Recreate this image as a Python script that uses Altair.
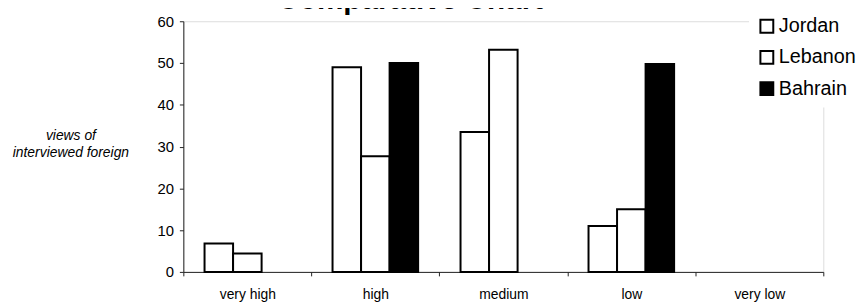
import altair as alt
import pandas as pd

categories = ["very high", "high", "medium", "low", "very low"]
countries = ["Jordan", "Lebanon", "Bahrain"]
jordan = [6.8, 49.0, 33.5, 11.0, 0]
lebanon = [4.4, 27.7, 53.2, 15.0, 0]
bahrain = [0, 50.0, 0, 49.8, 0]
y_ticks = [0, 10, 20, 30, 40, 50, 60]

rows = []
for name, vals in zip(countries, [jordan, lebanon, bahrain]):
    for cat, v in zip(categories, vals):
        rows.append({"category": cat, "country": name, "value": v})
df = pd.DataFrame(rows)

FONT = "Liberation Sans"

chart = (
    alt.Chart(df)
    .transform_filter("datum.value > 0")
    .mark_bar(stroke="black", strokeWidth=2)
    .encode(
        x=alt.X(
            "category:N",
            sort=categories,
            scale=alt.Scale(domain=categories, paddingInner=0, paddingOuter=0),
            axis=alt.Axis(
                title=None,
                labelAngle=0,
                tickBand="extent",
                tickSize=4,
                tickColor="#222",
                labelPadding=12,
                labelFontSize=14,
                labelFont=FONT,
                labelColor="black",
                domainColor="#222",
            ),
        ),
        xOffset=alt.XOffset(
            "country:N",
            sort=countries,
            scale=alt.Scale(domain=countries, paddingInner=0, paddingOuter=0.743),
        ),
        y=alt.Y(
            "value:Q",
            scale=alt.Scale(domain=[0, 60], nice=False),
            axis=alt.Axis(
                values=y_ticks,
                grid=False,
                title=["views of", "interviewed foreign"],
                titleAngle=0,
                titleFontStyle="italic",
                titleFontWeight="normal",
                titleFontSize=14,
                titleFont=FONT,
                titleAlign="center",
                titleBaseline="top",
                titleX=-114,
                titleY=108,
                titleLineHeight=18,
                titleColor="black",
                labelFontSize=15,
                labelFont=FONT,
                labelColor="black",
                tickSize=4,
                tickColor="#222",
                labelPadding=6,
                domainColor="#222",
            ),
        ),
        fill=alt.Fill(
            "country:N",
            sort=countries,
            scale=alt.Scale(domain=countries, range=["white", "white", "black"]),
            legend=alt.Legend(
                title=None,
                orient="none",
                legendX=571,
                legendY=-13,
                symbolType="square",
                symbolSize=169,
                symbolStrokeColor="black",
                symbolStrokeWidth=2,
                symbolOpacity=1,
                labelFontSize=20,
                labelFont=FONT,
                labelColor="black",
                labelOffset=2,
                rowPadding=9.5,
                padding=8,
                fillColor="white",
            ),
        ),
    )
    .properties(
        width=646,
        height=253,
        autosize=alt.AutoSizeParams(type="none"),
        padding={"left": 177, "top": 12, "right": 33, "bottom": 30},
        title=alt.TitleParams(
            "Comparative Chart",
            fontSize=30,
            fontWeight="bold",
            font=FONT,
            color="black",
            anchor="middle",
            frame="group",
            dx=-94,
            dy=31,
            baseline="alphabetic",
            offset=0,
        ),
    )
    .configure_view(stroke="#222", strokeWidth=1, strokeDash=[2, 1])
    .configure(background="white")
)

chart.save("out.html", embed_options={"renderer": "svg", "actions": False})
